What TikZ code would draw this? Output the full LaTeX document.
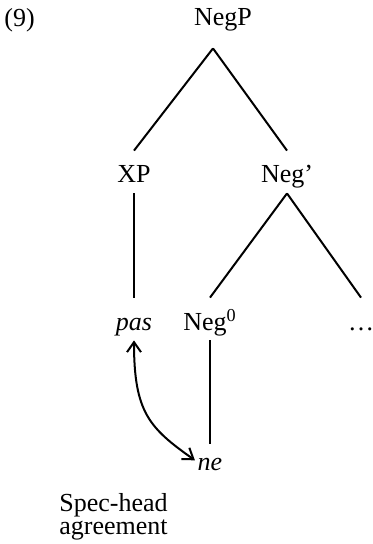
\documentclass[tikz,border=0pt]{standalone}
\usepackage{fontspec}
\setmainfont{Liberation Serif}
\usepackage{tikz}
\usetikzlibrary{arrows.meta, positioning}

\begin{document}
\begin{tikzpicture}[
    x=0.5pt, y=-0.5pt,
    font=\fontsize{13}{15}\selectfont,
    cat/.style={inner sep=0pt, text height=16pt, text depth=5pt, anchor=base},
    branch/.style={line width=1pt},
    agree/.style={line width=1pt, shorten >=1.5pt, {Straight Barb[length=5pt, width=7pt]}-{Straight Barb[length=5pt, width=7pt]}}
]
\useasboundingbox (0,0) rectangle (372,544);

% Example number
\node[anchor=base west, inner sep=0pt] (exnum) at (4,27) {(9)};

% Tree nodes
\node[cat] (negp) at (223,26) {NegP};
\node[cat] (xp) at (134,183) {XP};
\node[cat] (negbar) at (287,183) {Neg’};
\node[cat] (pas) at (134,330) {\textit{pas}};
\node[cat] (negzero) at (210,330) {Neg\textsuperscript{0}};
\node[cat] (dots) at (361,330) {\dots};
\node[cat, text height=13pt] (ne) at (210,470) {\textit{ne}};

% Label
\node[anchor=west, align=left, inner sep=0pt, font=\fontsize{13}{11.5}\selectfont] (agr) at (59,517) {Spec-head\\agreement};

% Branches
\draw[branch] ([xshift=-5pt, yshift=-6pt]negp.south) -- (xp.north);
\draw[branch] ([xshift=-5pt, yshift=-6pt]negp.south) -- (negbar.north);
\draw[branch] (xp.south) -- (pas.north);
\draw[branch] (negbar.south) -- (negzero.north);
\draw[branch] (negbar.south) -- (dots.north);
\draw[branch] (negzero.south) -- (ne.north);

% Agreement arrow
\draw[agree] (pas.south) .. controls +(0,72) and +(-48,-34) .. (ne.west);

\end{tikzpicture}
\end{document}
